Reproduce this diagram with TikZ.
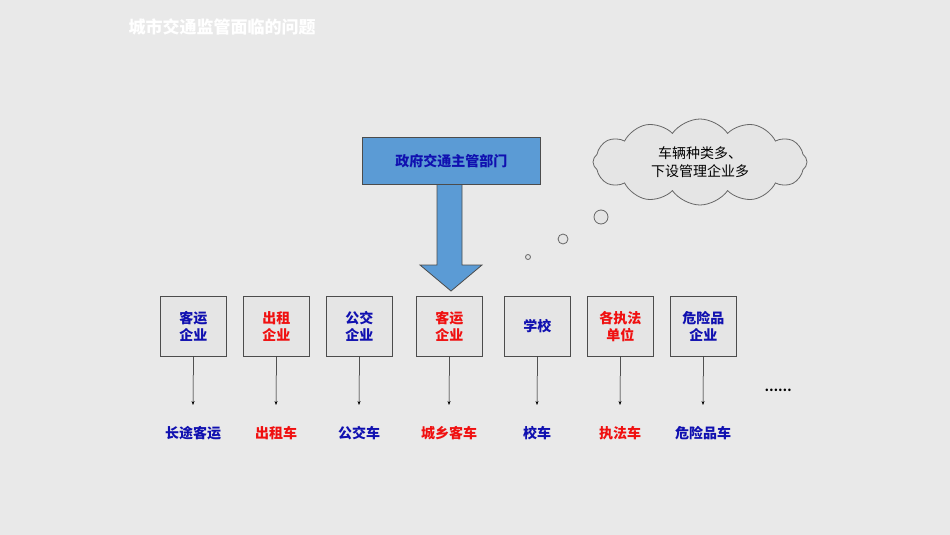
\documentclass[tikz,border=0pt]{standalone}
\usepackage{fontspec}
\setmainfont{Noto Sans CJK SC}
\usetikzlibrary{shapes.symbols,arrows.meta}
\definecolor{bg}{HTML}{E9E9E9}
\definecolor{dblue}{HTML}{1010B0}
\definecolor{rred}{HTML}{F01010}
\definecolor{abl}{HTML}{5B9BD5}
\begin{document}
\begin{tikzpicture}[x=1pt,y=-1pt,
  ent/.style={draw=black!70,fill=black!10,line width=0.8pt,minimum width=66pt,minimum height=60pt,anchor=north west,font=\bfseries\fontsize{14}{17}\selectfont,align=center,inner sep=0pt},
  lab/.style={font=\bfseries\fontsize{14}{17}\selectfont},
  conn/.style={-{Stealth[length=4pt,width=3pt]},line width=0.5pt}]
\fill[bg] (0,0) rectangle (950,535);
\useasboundingbox (0,0) rectangle (950,535);
\node[anchor=west,text=white,font=\bfseries\fontsize{17}{20}\selectfont] (title) at (125,27) {城市交通监管面临的问题};
% big arrow
\draw[fill=abl,draw=black!70,line width=0.8pt] (437,184) -- (437,265) -- (420,265) -- (451,291) -- (482,265) -- (462,265) -- (462,184) -- cycle;
\node[draw=black!70,fill=abl,line width=0.8pt,minimum width=178pt,minimum height=47pt,anchor=north west,inner sep=0pt,text=dblue,font=\bfseries\fontsize{14}{17}\selectfont] (gov) at (362,137) {政府交通主管部门};
% cloud
\node[cloud,cloud puffs=12,cloud puff arc=110,aspect=2.4,draw=black!60,fill=black!10,line width=0.8pt,minimum width=214pt,minimum height=86pt,align=center,font=\fontsize{14}{18}\selectfont,inner sep=0pt] (cl) at (700,162) {车辆种类多、\\下设管理企业多};
\draw[black!60,fill=black!10,line width=0.8pt] (601,217) circle (7) (563,239) circle (5) (528,257) circle (2.5);
\foreach \n/\x/\t/\c/\o in {a/160/{客运\\企业}/dblue/长途客运, b/243/{出租\\企业}/rred/出租车, c/326/{公交\\企业}/dblue/公交车, d/416/{客运\\企业}/rred/城乡客车, e/504/{学校}/dblue/校车, f/587/{各执法\\单位}/rred/执法车, g/670/{危险品\\企业}/dblue/危险品车}{
  \node[ent,text=\c] (\n) at (\x,296) {\t};
  \coordinate (\n e) at (\x+33,405);
  \draw[conn] (\n.south) -- (\n e);
  \node[lab,text=\c] (\n l) at (\x+33,433) {\o};
}
\node[font=\bfseries\fontsize{12}{14}\selectfont] (dots) at (778,390) {……};
\end{tikzpicture}
\end{document}
